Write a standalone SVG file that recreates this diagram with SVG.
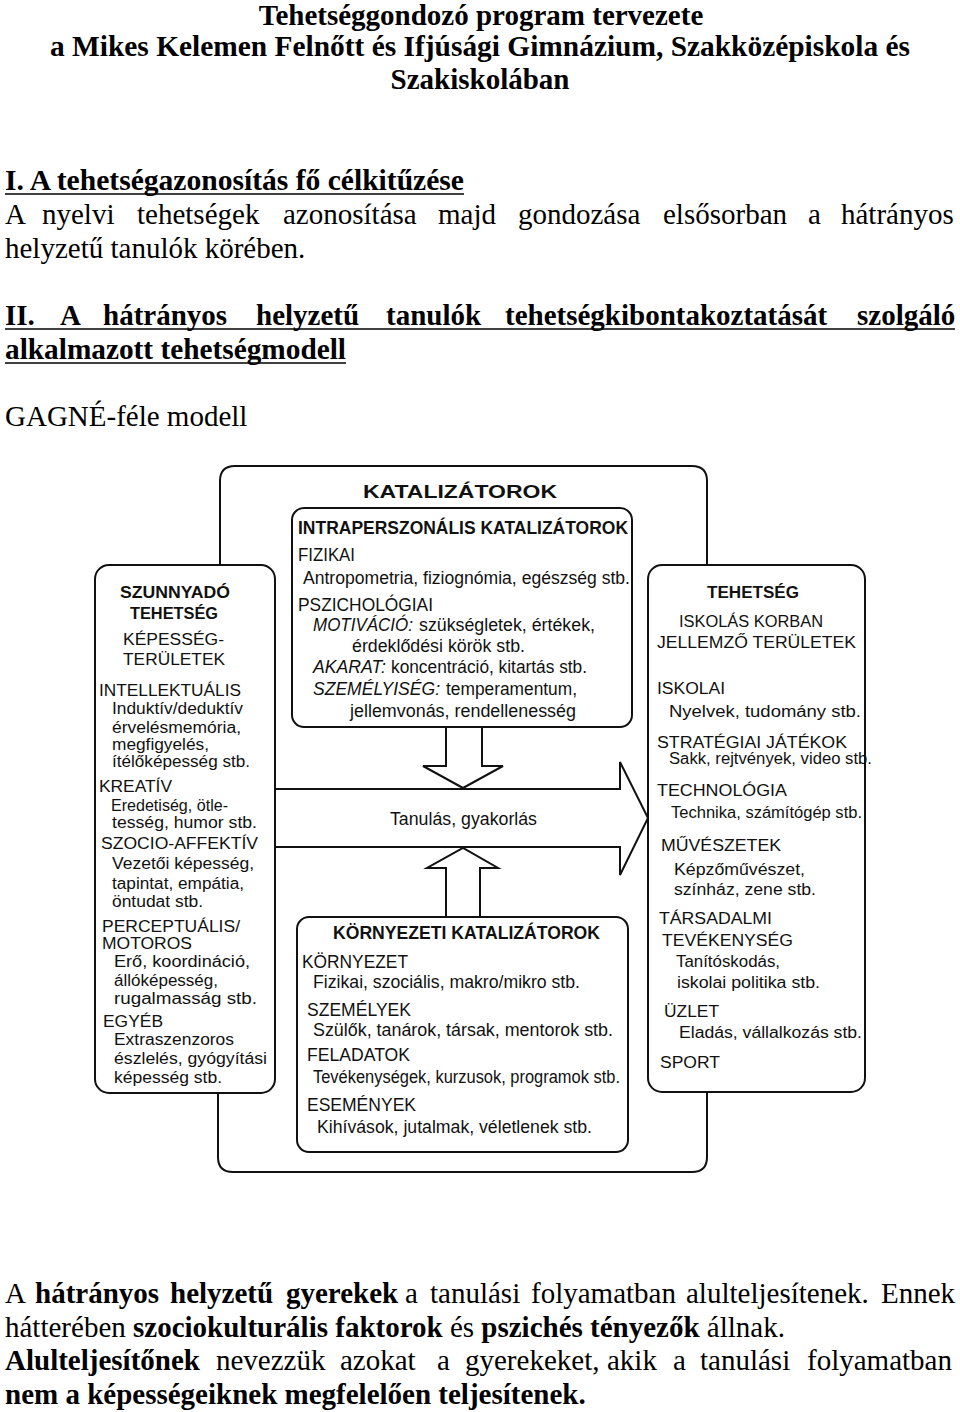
<svg xmlns="http://www.w3.org/2000/svg" width="960" height="1412" viewBox="0 0 960 1412">
<style>
.s{font-family:"Liberation Serif","Times New Roman",serif;font-size:29px;fill:#000}
.sb{font-weight:bold}
.d{font-family:"Liberation Sans",Arial,sans-serif;font-size:16px;fill:#111}
.m{font-family:"Liberation Sans",Arial,sans-serif;font-size:17.5px;fill:#111}
.b{font-weight:bold}
.it{font-style:italic}
.box{fill:#fff;stroke:#111;stroke-width:2}
.ln{fill:none;stroke:#111;stroke-width:2}
.ar{fill:#fff;stroke:#111;stroke-width:2;stroke-linejoin:miter}
.ul{stroke:#000;stroke-width:1.6}
</style>
<rect width="960" height="1412" fill="#fff"/>

<g id="page-text">
<text class="s sb" x="481" y="25" text-anchor="middle">Tehetséggondozó program tervezete</text>
<text class="s sb" x="480" y="56" text-anchor="middle" textLength="860" lengthAdjust="spacingAndGlyphs">a Mikes Kelemen Felnőtt és Ifjúsági Gimnázium, Szakközépiskola és</text>
<text class="s sb" x="480" y="89" text-anchor="middle">Szakiskolában</text>

<text class="s sb" x="5" y="190" textLength="459" lengthAdjust="spacingAndGlyphs">I. A tehetségazonosítás fő célkitűzése</text>
<line class="ul" x1="5" y1="194" x2="464" y2="194"/>
<text class="s" y="224"><tspan x="5">A</tspan><tspan x="42">nyelvi</tspan><tspan x="137">tehetségek</tspan><tspan x="283">azonosítása</tspan><tspan x="438">majd</tspan><tspan x="518">gondozása</tspan><tspan x="663">elsősorban</tspan><tspan x="808">a</tspan><tspan x="841">hátrányos</tspan></text>
<text class="s" x="5" y="258">helyzetű tanulók körében.</text>

<text class="s sb" y="325"><tspan x="5">II.</tspan><tspan x="60">A</tspan><tspan x="103">hátrányos</tspan><tspan x="256">helyzetű</tspan><tspan x="386">tanulók</tspan><tspan x="505">tehetségkibontakoztatását</tspan><tspan x="857">szolgáló</tspan></text>
<line class="ul" x1="5" y1="329" x2="955" y2="329"/>
<text class="s sb" x="5" y="359" textLength="341" lengthAdjust="spacingAndGlyphs">alkalmazott tehetségmodell</text>
<line class="ul" x1="5" y1="363" x2="346" y2="363"/>

<text class="s" x="5" y="426">GAGNÉ-féle modell</text>

<text class="s" y="1303"><tspan x="5">A</tspan><tspan x="35" font-weight="bold">hátrányos</tspan><tspan x="170" font-weight="bold">helyzetű</tspan><tspan x="286" font-weight="bold">gyerekek</tspan><tspan x="405">a</tspan><tspan x="430">tanulási</tspan><tspan x="531">folyamatban</tspan><tspan x="686">alulteljesítenek.</tspan><tspan x="881">Ennek</tspan></text>
<text class="s" x="5" y="1337">hátterében <tspan font-weight="bold">szociokulturális faktorok</tspan> és <tspan font-weight="bold">pszichés tényezők</tspan> állnak.</text>
<text class="s" y="1370"><tspan x="5" font-weight="bold">Alulteljesítőnek</tspan><tspan x="216">nevezzük</tspan><tspan x="340">azokat</tspan><tspan x="437">a</tspan><tspan x="465">gyerekeket,</tspan><tspan x="607">akik</tspan><tspan x="673">a</tspan><tspan x="700">tanulási</tspan><tspan x="807">folyamatban</tspan></text>
<text class="s sb" x="5" y="1404">nem a képességeiknek megfelelően teljesítenek.</text>
</g>

<g id="connectors">
<path id="frame-top" class="ln" d="M220,565 V481 Q220,466 235,466 H692 Q707,466 707,481 V565"/>
<path id="frame-bottom" class="ln" d="M218,1093 V1157 Q218,1172 233,1172 H692 Q707,1172 707,1157 V1092"/>
<path id="arrow-down" class="ar" d="M446,727 V766 H423 L463,788 L503,766 H482 V727"/>
<path id="arrow-up" class="ar" d="M446,917 V868 H427 L463,848 L498,868 H480 V917"/>
<path id="arrow-main" class="ar" d="M275,789 H620 V762 L648,818 L620,875 V847 H275"/>
<text class="m" x="390" y="825" textLength="147" lengthAdjust="spacingAndGlyphs">Tanulás, gyakorlás</text>
</g>

<g id="katalizatorok-title">
<text class="m b" x="363" y="498" font-size="22.5" textLength="194" lengthAdjust="spacingAndGlyphs">KATALIZÁTOROK</text>
</g>

<g id="intraperszonalis">
<rect class="box" x="292" y="508" width="340" height="219" rx="12"/>
<text class="m b" x="298" y="534" textLength="330" lengthAdjust="spacingAndGlyphs">INTRAPERSZONÁLIS KATALIZÁTOROK</text>
<text class="m" x="298" y="561" textLength="57" lengthAdjust="spacingAndGlyphs">FIZIKAI</text>
<text class="m" x="303" y="584" textLength="327" lengthAdjust="spacingAndGlyphs">Antropometria, fiziognómia, egészség stb.</text>
<text class="m" x="298" y="611" textLength="135" lengthAdjust="spacingAndGlyphs">PSZICHOLÓGIAI</text>
<text class="m it" x="313" y="631" textLength="100" lengthAdjust="spacingAndGlyphs">MOTIVÁCIÓ:</text>
<text class="m" x="419" y="631" textLength="176" lengthAdjust="spacingAndGlyphs">szükségletek, értékek,</text>
<text class="m" x="352" y="652" textLength="173" lengthAdjust="spacingAndGlyphs">érdeklődési körök stb.</text>
<text class="m it" x="313" y="673" textLength="73" lengthAdjust="spacingAndGlyphs">AKARAT:</text>
<text class="m" x="391" y="673" textLength="196" lengthAdjust="spacingAndGlyphs">koncentráció, kitartás stb.</text>
<text class="m it" x="313" y="695" textLength="127" lengthAdjust="spacingAndGlyphs">SZEMÉLYISÉG:</text>
<text class="m" x="446" y="695" textLength="131" lengthAdjust="spacingAndGlyphs">temperamentum,</text>
<text class="m" x="350" y="717" textLength="226" lengthAdjust="spacingAndGlyphs">jellemvonás, rendellenesség</text>
</g>

<g id="kornyezeti">
<rect class="box" x="297" y="917" width="331" height="235" rx="12"/>
<text class="m b" x="333" y="939" textLength="267" lengthAdjust="spacingAndGlyphs">KÖRNYEZETI KATALIZÁTOROK</text>
<text class="m" x="302" y="968" textLength="106" lengthAdjust="spacingAndGlyphs">KÖRNYEZET</text>
<text class="m" x="313" y="988" textLength="267" lengthAdjust="spacingAndGlyphs">Fizikai, szociális, makro/mikro stb.</text>
<text class="m" x="307" y="1016" textLength="104" lengthAdjust="spacingAndGlyphs">SZEMÉLYEK</text>
<text class="m" x="313" y="1036" textLength="300" lengthAdjust="spacingAndGlyphs">Szülők, tanárok, társak, mentorok stb.</text>
<text class="m" x="307" y="1061" textLength="103" lengthAdjust="spacingAndGlyphs">FELADATOK</text>
<text class="m" x="313" y="1083" textLength="307" lengthAdjust="spacingAndGlyphs">Tevékenységek, kurzusok, programok stb.</text>
<text class="m" x="307" y="1111" textLength="109" lengthAdjust="spacingAndGlyphs">ESEMÉNYEK</text>
<text class="m" x="317" y="1133" textLength="275" lengthAdjust="spacingAndGlyphs">Kihívások, jutalmak, véletlenek stb.</text>
</g>

<g id="szunnyado">
<rect class="box" x="95" y="565" width="180" height="528" rx="14"/>
<text class="d b" x="120" y="597.5" textLength="110" lengthAdjust="spacingAndGlyphs">SZUNNYADÓ</text>
<text class="d b" x="130" y="618.5" textLength="88" lengthAdjust="spacingAndGlyphs">TEHETSÉG</text>
<text class="d" x="123" y="645" textLength="101" lengthAdjust="spacingAndGlyphs">KÉPESSÉG-</text>
<text class="d" x="123" y="664.5" textLength="102" lengthAdjust="spacingAndGlyphs">TERÜLETEK</text>
<text class="d" x="99" y="695.5" textLength="142" lengthAdjust="spacingAndGlyphs">INTELLEKTUÁLIS</text>
<text class="d" x="112" y="714" textLength="131" lengthAdjust="spacingAndGlyphs">Induktív/deduktív</text>
<text class="d" x="112" y="733" textLength="129" lengthAdjust="spacingAndGlyphs">érvelésmemória,</text>
<text class="d" x="112" y="749.5" textLength="97" lengthAdjust="spacingAndGlyphs">megfigyelés,</text>
<text class="d" x="112" y="766.5" textLength="138" lengthAdjust="spacingAndGlyphs">ítélőképesség stb.</text>
<text class="d" x="99" y="792" textLength="73" lengthAdjust="spacingAndGlyphs">KREATÍV</text>
<text class="d" x="111" y="811" textLength="117" lengthAdjust="spacingAndGlyphs">Eredetiség, ötle-</text>
<text class="d" x="112" y="828" textLength="145" lengthAdjust="spacingAndGlyphs">tesség, humor stb.</text>
<text class="d" x="101" y="848.5" textLength="157" lengthAdjust="spacingAndGlyphs">SZOCIO-AFFEKTÍV</text>
<text class="d" x="112" y="869" textLength="142" lengthAdjust="spacingAndGlyphs">Vezetői képesség,</text>
<text class="d" x="112" y="888.5" textLength="132" lengthAdjust="spacingAndGlyphs">tapintat, empátia,</text>
<text class="d" x="112" y="907" textLength="91" lengthAdjust="spacingAndGlyphs">öntudat stb.</text>
<text class="d" x="102" y="932" textLength="138" lengthAdjust="spacingAndGlyphs">PERCEPTUÁLIS/</text>
<text class="d" x="102" y="948.5" textLength="90" lengthAdjust="spacingAndGlyphs">MOTOROS</text>
<text class="d" x="114" y="967" textLength="136" lengthAdjust="spacingAndGlyphs">Erő, koordináció,</text>
<text class="d" x="114" y="986" textLength="104" lengthAdjust="spacingAndGlyphs">állóképesség,</text>
<text class="d" x="114" y="1004" textLength="143" lengthAdjust="spacingAndGlyphs">rugalmasság stb.</text>
<text class="d" x="103" y="1026.5" textLength="60" lengthAdjust="spacingAndGlyphs">EGYÉB</text>
<text class="d" x="114" y="1044.5" textLength="120" lengthAdjust="spacingAndGlyphs">Extraszenzoros</text>
<text class="d" x="114" y="1064" textLength="153" lengthAdjust="spacingAndGlyphs">észlelés, gyógyítási</text>
<text class="d" x="114" y="1083" textLength="108" lengthAdjust="spacingAndGlyphs">képesség stb.</text>
</g>

<g id="tehetseg">
<rect class="box" x="648" y="565" width="217" height="527" rx="14"/>
<text class="d b" x="707" y="597.5" textLength="92" lengthAdjust="spacingAndGlyphs">TEHETSÉG</text>
<text class="d" x="679" y="626.5" textLength="144" lengthAdjust="spacingAndGlyphs">ISKOLÁS KORBAN</text>
<text class="d" x="657" y="647.5" textLength="199" lengthAdjust="spacingAndGlyphs">JELLEMZŐ TERÜLETEK</text>
<text class="d" x="657" y="693.5" textLength="68" lengthAdjust="spacingAndGlyphs">ISKOLAI</text>
<text class="d" x="669" y="717" textLength="192" lengthAdjust="spacingAndGlyphs">Nyelvek, tudomány stb.</text>
<text class="d" x="657" y="747.5" textLength="190" lengthAdjust="spacingAndGlyphs">STRATÉGIAI JÁTÉKOK</text>
<text class="d" x="669" y="764" textLength="203" lengthAdjust="spacingAndGlyphs">Sakk, rejtvények, video stb.</text>
<text class="d" x="657" y="795.5" textLength="130" lengthAdjust="spacingAndGlyphs">TECHNOLÓGIA</text>
<text class="d" x="671" y="818" textLength="191" lengthAdjust="spacingAndGlyphs">Technika, számítógép stb.</text>
<text class="d" x="661" y="850.5" textLength="120" lengthAdjust="spacingAndGlyphs">MŰVÉSZETEK</text>
<text class="d" x="674" y="875" textLength="131" lengthAdjust="spacingAndGlyphs">Képzőművészet,</text>
<text class="d" x="674" y="895" textLength="142" lengthAdjust="spacingAndGlyphs">színház, zene stb.</text>
<text class="d" x="659" y="923.5" textLength="113" lengthAdjust="spacingAndGlyphs">TÁRSADALMI</text>
<text class="d" x="662" y="945.5" textLength="131" lengthAdjust="spacingAndGlyphs">TEVÉKENYSÉG</text>
<text class="d" x="676" y="967" textLength="104" lengthAdjust="spacingAndGlyphs">Tanítóskodás,</text>
<text class="d" x="677" y="988" textLength="143" lengthAdjust="spacingAndGlyphs">iskolai politika stb.</text>
<text class="d" x="664" y="1016.5" textLength="55" lengthAdjust="spacingAndGlyphs">ÜZLET</text>
<text class="d" x="679" y="1038" textLength="183" lengthAdjust="spacingAndGlyphs">Eladás, vállalkozás stb.</text>
<text class="d" x="660" y="1067.5" textLength="60" lengthAdjust="spacingAndGlyphs">SPORT</text>
</g>
</svg>
